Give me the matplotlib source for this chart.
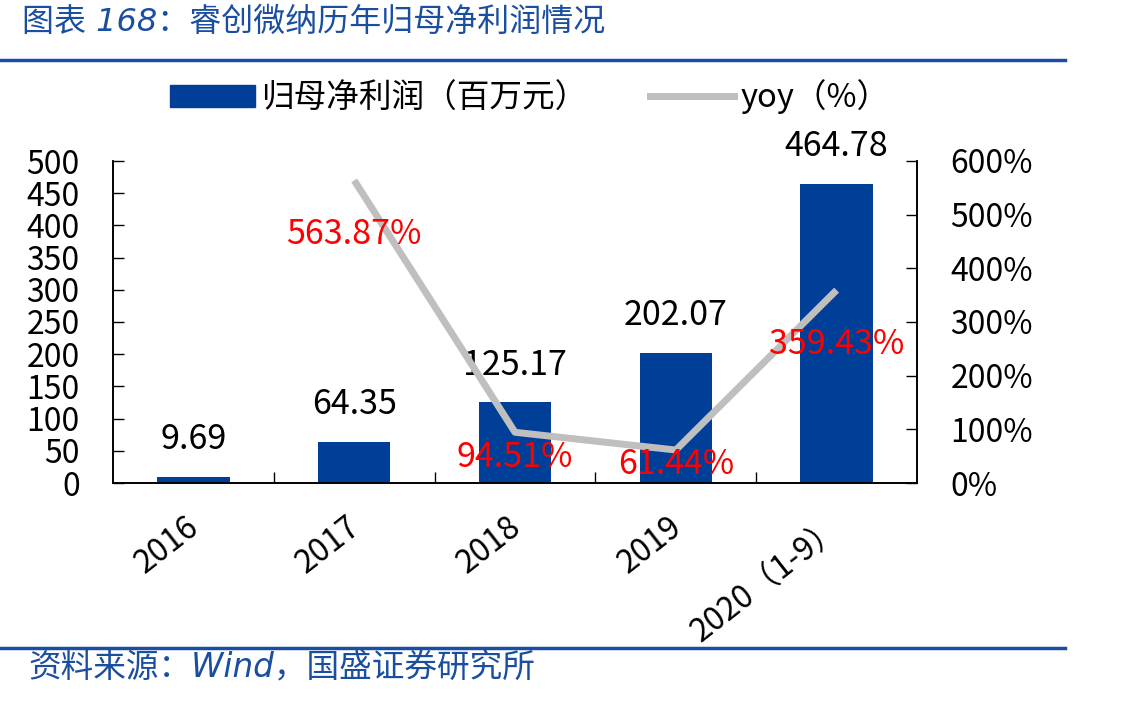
import matplotlib
matplotlib.use('Agg')

import matplotlib.pyplot as plt
from matplotlib.lines import Line2D
from matplotlib.patches import Patch

plt.rcParams['font.family'] = ['Noto Sans CJK SC', 'DejaVu Sans']

# 数据
categories = ['2016', '2017', '2018', '2019', '2020（1-9）']
profit = [9.69, 64.35, 125.17, 202.07, 464.78]
yoy_years = [1, 2, 3, 4]
yoy = [563.87, 94.51, 61.44, 359.43]
yoy_label_dy = [-54, -25, -14, -54]   # Pixelversatz der roten Beschriftungen

bar_color = '#003F98'
line_color = '#BFBFBF'
blue = '#1A4EA0'

fig = plt.figure(figsize=(11.4, 7.01), dpi=100)
ax = fig.add_axes([113 / 1140, 1 - 483 / 701, (917 - 113) / 1140, (483 - 161) / 701])
ax2 = ax.twinx()

x = list(range(len(categories)))
bars = ax.bar(x, profit, width=0.45, color=bar_color, zorder=2)
ax.set_xlim(-0.5, len(categories) - 0.5)
ax.set_ylim(0, 500)
ax.set_yticks(range(0, 501, 50))

ax2.plot(yoy_years, yoy, color=line_color, linewidth=5, solid_capstyle='butt', zorder=3)
ax2.set_ylim(0, 600)
ax2.set_yticks(range(0, 601, 100))
ax2.set_yticklabels(['{}%'.format(v) for v in range(0, 601, 100)])

ax.set_zorder(ax2.get_zorder() - 1)
ax.patch.set_visible(False)

for a in (ax, ax2):
    a.spines['top'].set_visible(False)
    for s in a.spines.values():
        s.set_linewidth(1.2)

ax.tick_params(axis='y', direction='in', length=8, width=1, pad=24, labelsize=23)
ax2.tick_params(axis='y', direction='in', length=8, width=1, pad=24, labelsize=23)

ax.set_xticks(x)
ax.set_xticklabels(categories, rotation=38, ha='right', va='center_baseline',
                   rotation_mode='anchor', fontsize=23)
ax.tick_params(axis='x', which='major', length=0, pad=27)
ax.set_xticks([i + 0.5 for i in x[:-1]], minor=True)
ax.tick_params(axis='x', which='minor', direction='in', length=8, width=1)

# Balkenbeschriftungen
for xi, v in zip(x, profit):
    ax.annotate('{:.2f}'.format(v), (xi, v), xytext=(0, 37), textcoords='offset pixels',
                ha='center', va='center', fontsize=24.5, color='black')

# yoy-Beschriftungen
for xi, v, dy in zip(yoy_years, yoy, yoy_label_dy):
    ax2.annotate('{:.2f}%'.format(v), (xi, v), xytext=(0, dy), textcoords='offset pixels',
                 ha='center', va='center', fontsize=24.5, color='red', zorder=5)

# Legende
handles = [Patch(facecolor=bar_color, edgecolor=bar_color),
           Line2D([0], [0], color=line_color, linewidth=5)]
fig.legend(handles, ['归母净利润（百万元）', 'yoy（%）'], loc='center',
           bbox_to_anchor=(530 / 1140, 1 - 97 / 701), ncol=2, frameon=False,
           fontsize=23.5, handlelength=2.6, handleheight=0.65, handletextpad=0.2,
           columnspacing=1.9)

# Titel und Quelle
latin_first = ['DejaVu Sans', 'Noto Sans CJK SC']
fig.text(22 / 1140, 1 - 22 / 701, '图表 168：睿创微纳历年归母净利润情况', color=blue,
         fontsize=23, style='italic', family=latin_first, ha='left', va='center')
fig.add_artist(Line2D([0, 1065 / 1140], [1 - 60 / 701] * 2, color=blue, linewidth=2.5))
fig.add_artist(Line2D([0, 1065 / 1140], [1 - 648 / 701] * 2, color=blue, linewidth=2.5))
fig.text(28 / 1140, 1 - 668 / 701, '资料来源：Wind，国盛证券研究所', color=blue,
         fontsize=23.5, style='italic', family=latin_first, ha='left', va='center')

fig.savefig('out.png', dpi=100)
plt.close(fig)
